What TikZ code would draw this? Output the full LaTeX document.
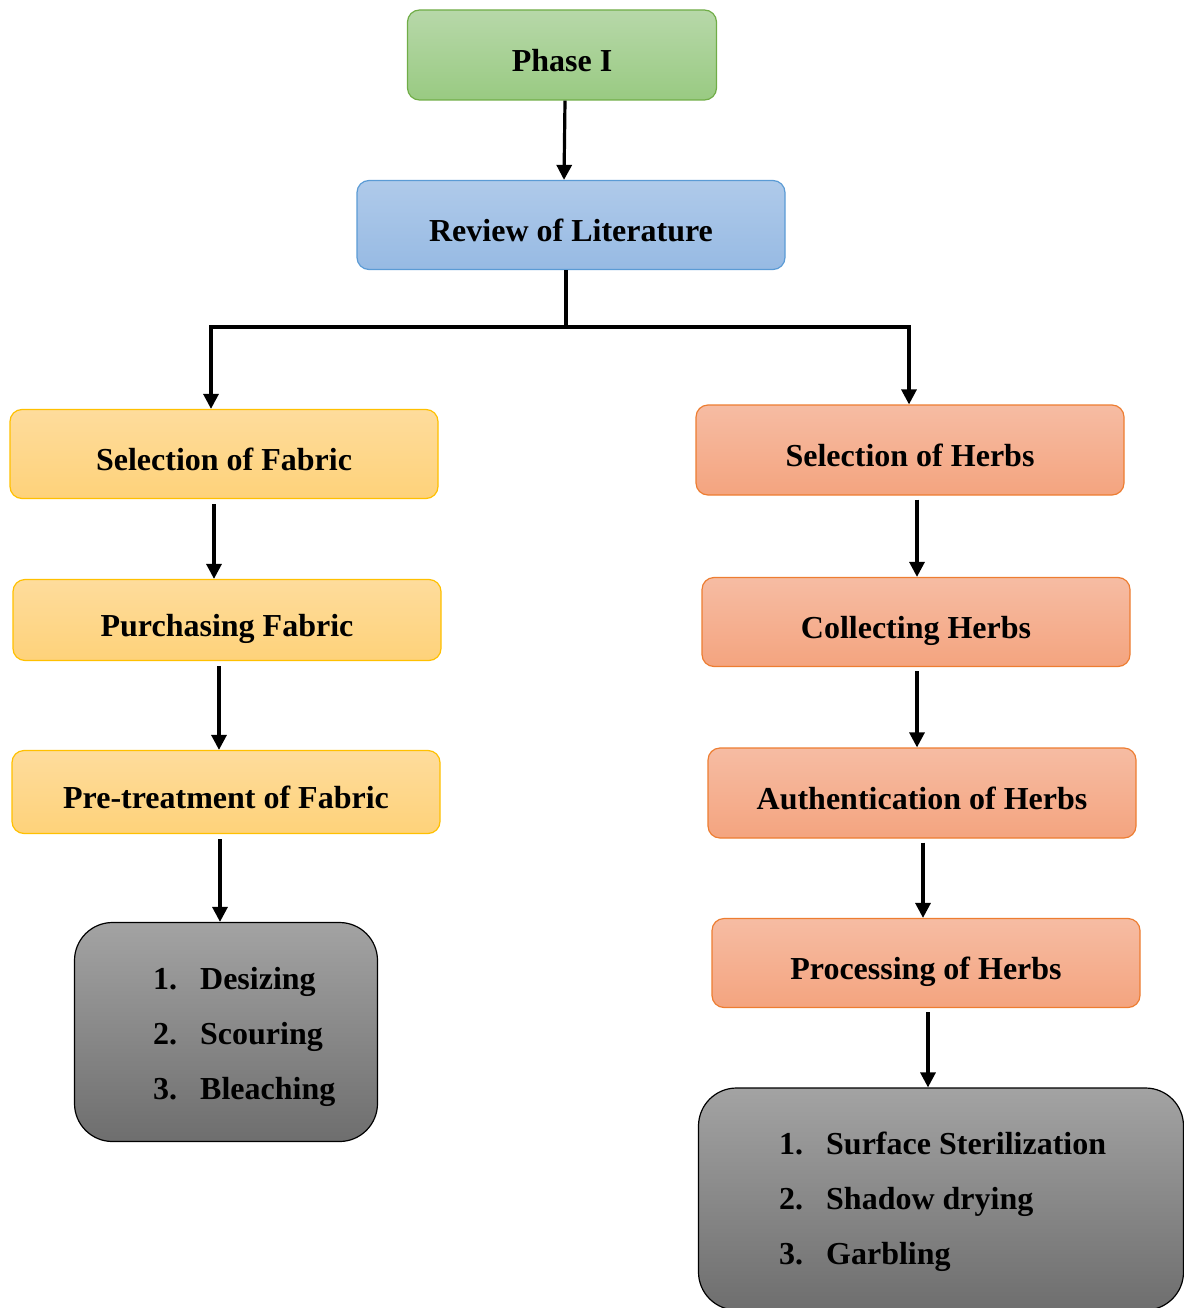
\documentclass[tikz,border=0pt]{standalone}
\usepackage{fontspec}
\setmainfont{Liberation Serif}
\usetikzlibrary{arrows.meta}

\definecolor{phasetop}{HTML}{B7D8A9}
\definecolor{phasebot}{HTML}{99CA82}
\definecolor{phaseline}{HTML}{70AD47}
\definecolor{reviewtop}{HTML}{AFCAEA}
\definecolor{reviewbot}{HTML}{97BAE3}
\definecolor{reviewline}{HTML}{5B9BD5}
\definecolor{fabrictop}{HTML}{FEDC9C}
\definecolor{fabricbot}{HTML}{FED27A}
\definecolor{fabricline}{HTML}{FFC000}
\definecolor{herbtop}{HTML}{F6BCA3}
\definecolor{herbbot}{HTML}{F4A47F}
\definecolor{herbline}{HTML}{ED7D31}
\definecolor{listtop}{HTML}{A3A3A3}
\definecolor{listbot}{HTML}{6E6E6E}

\tikzset{
  box/.style={rectangle, rounded corners=12pt, line width=1.2pt,
    minimum width=428pt, minimum height=89pt, text height=36pt, text depth=3pt,
    font=\fontsize{32}{38}\selectfont\bfseries},
  phasebox/.style={box, draw=phaseline, top color=phasetop, bottom color=phasebot},
  reviewbox/.style={box, draw=reviewline, top color=reviewtop, bottom color=reviewbot},
  fabricbox/.style={box, draw=fabricline, top color=fabrictop, bottom color=fabricbot},
  herbbox/.style={box, draw=herbline, top color=herbtop, bottom color=herbbot},
  listbox/.style={rectangle, rounded corners=38pt, line width=1.2pt, draw=black,
    top color=listtop, bottom color=listbot},
  listtext/.style={anchor=west, align=left, inner sep=0pt,
    font=\fontsize{32}{55}\selectfont\bfseries},
  flow/.style={line width=3.2pt, -{Triangle[width=15pt,length=15pt]}},
  trunk/.style={line width=3.2pt},
}
\newcommand{\listentry}[2]{\makebox[47pt][l]{#1}#2}

\begin{document}
\begin{tikzpicture}[x=1pt, y=-1pt]
  \useasboundingbox (0,0) rectangle (1183,1308);

  % top of the chart
  \node[phasebox, minimum width=309pt, minimum height=90pt] (phase) at (562,55) {Phase I};
  \node[reviewbox] (review) at (571,225) {Review of Literature};

  % fabric column
  \node[fabricbox] (fab1) at (224,454) {Selection of Fabric};
  \node[fabricbox, minimum height=81pt] (fab2) at (227,620) {Purchasing Fabric};
  \node[fabricbox, minimum height=83pt] (fab3) at (226,792) {Pre-treatment of Fabric};
  \node[listbox, minimum width=303pt, minimum height=219pt] (fablist) at (226,1032) {};
  \node[listtext] (fabsteps) at (153,1037)
    {\listentry{1.}{Desizing}\\ \listentry{2.}{Scouring}\\ \listentry{3.}{Bleaching}};

  % herb column
  \node[herbbox, minimum height=90pt] (herb1) at (910,450) {Selection of Herbs};
  \node[herbbox] (herb2) at (916,622) {Collecting Herbs};
  \node[herbbox, minimum height=90pt] (herb3) at (922,793) {Authentication of Herbs};
  \node[herbbox] (herb4) at (926,963) {Processing of Herbs};
  \node[listbox, minimum width=485pt, minimum height=222pt] (herblist) at (941,1199) {};
  \node[listtext] (herbsteps) at (779,1202)
    {\listentry{1.}{Surface Sterilization}\\ \listentry{2.}{Shadow drying}\\ \listentry{3.}{Garbling}};

  % connectors
  \draw[flow] ([xshift=3pt]phase.south) -- ([xshift=-7pt]review.north);
  \draw[trunk] ([xshift=-5pt]review.south) -- ++(0,57) coordinate (split);
  \coordinate (bl) at (211,327);
  \coordinate (br) at (909,327);
  \draw[trunk] ([xshift=-1.6pt]bl) -- ([xshift=1.6pt]br);
  \draw[flow] (bl) -- (bl |- fab1.north);
  \draw[flow] (br) -- (br |- herb1.north);

  \foreach \a/\b/\dx in {fab1/fab2/-10, fab2/fab3/-8, fab3/fablist/-6} {
    \draw[flow] ([xshift=\dx pt, yshift=-5pt]\a.south) -- ([xshift=\dx pt]\a.south |- \b.north);
  }
  \foreach \a/\b/\dx in {herb1/herb2/7, herb2/herb3/1, herb3/herb4/1, herb4/herblist/2} {
    \draw[flow] ([xshift=\dx pt, yshift=-4pt]\a.south) -- ([xshift=\dx pt]\a.south |- \b.north);
  }
\end{tikzpicture}
\end{document}
